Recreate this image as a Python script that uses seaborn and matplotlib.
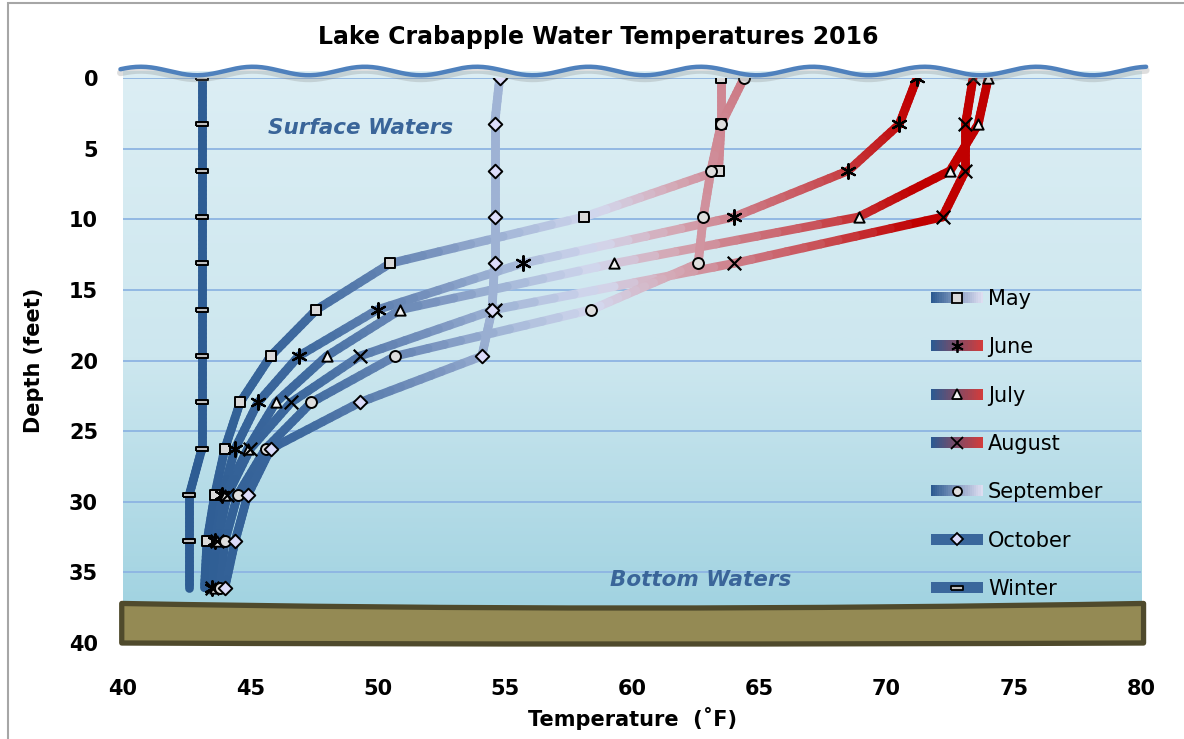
import numpy as np
import pandas as pd
import matplotlib
matplotlib.use("Agg")
import matplotlib.pyplot as plt
import seaborn as sns
from matplotlib.collections import LineCollection
from matplotlib.colors import LinearSegmentedColormap, Normalize
from matplotlib.legend_handler import HandlerBase
from matplotlib.lines import Line2D
from matplotlib.patches import Rectangle, PathPatch
from matplotlib.path import Path

# --- data (depth in feet, temperature in F) ---
depth = [0, 3.28, 6.56, 9.84, 13.12, 16.40, 19.69, 22.97, 26.25, 29.53, 32.81, 36.09]
may = [63.5, 63.5, 63.4, 58.1, 50.5, 47.6, 45.8, 44.6, 44.0, 43.6, 43.3, 43.2]
june = [71.2, 70.5, 68.5, 64.0, 55.7, 50.0, 46.9, 45.3, 44.4, 43.9, 43.6, 43.5]
july = [74.0, 73.6, 72.5, 68.9, 59.3, 50.9, 48.0, 46.0, 44.9, 44.0, 43.7, 43.6]
august = [73.4, 73.1, 73.1, 72.2, 64.0, 54.6, 49.3, 46.6, 45.0, 44.1, 43.7, 43.5]
september = [64.4, 63.5, 63.1, 62.8, 62.6, 58.4, 50.7, 47.4, 45.6, 44.5, 44.0, 43.8]
october = [54.8, 54.6, 54.6, 54.6, 54.6, 54.5, 54.1, 49.3, 45.8, 44.9, 44.4, 44.0]
winter = [43.1, 43.1, 43.1, 43.1, 43.1, 43.1, 43.1, 43.1, 43.1, 42.6, 42.6, 42.6]

months = ["May", "June", "July", "August", "September", "October", "Winter"]
temps = [may, june, july, august, september, october, winter]
# last reading has no visible marker for these two
no_last_marker = ["May", "Winter"]

# marker styles
dash = [(-1, -0.32), (1, -0.32), (1, 0.32), (-1, 0.32), (-1, -0.32)]
mstyle = {
    "May": dict(marker="s", s=62, fc="#D9D9D9"),
    "June": dict(marker=(6, 2, 0), s=110, fc=None),
    "July": dict(marker="^", s=55, fc="#F2F2F2"),
    "August": dict(marker="x", s=95, fc=None),
    "September": dict(marker="o", s=62, fc="#DEDEDE"),
    "October": dict(marker="D", s=48, fc="#DCDCFA"),
    "Winter": dict(marker=dash, s=80, fc="#BFBFBF"),
}
legend_grad = {
    "May": ("#2C5A91", "#DDDDF0"),
    "June": ("#2C5A91", "#D03C3C"),
    "July": ("#2C5A91", "#D03C3C"),
    "August": ("#2C5A91", "#D03C3C"),
    "September": ("#2C5A91", "#DDDDF0"),
    "October": ("#3A679C", "#3A679C"),
    "Winter": ("#3A679C", "#3A679C"),
}

# temperature colour ramp for the profile lines
ramp = [(42, "#2A5A91"), (47, "#3F6A9F"), (52, "#7893BE"), (55, "#A5B8D8"),
        (58.5, "#D3D8EE"), (61.5, "#D4A8B5"), (64, "#CD7E89"), (67.5, "#C84C52"),
        (71, "#C00000"), (80, "#C00000")]
tmin, tmax = ramp[0][0], ramp[-1][0]
line_cmap = LinearSegmentedColormap.from_list(
    "lake", [((t - tmin) / (tmax - tmin), c) for t, c in ramp])
norm = Normalize(tmin, tmax)


class GradHandler(HandlerBase):
    def __init__(self, c0, c1):
        super().__init__()
        self.cm = LinearSegmentedColormap.from_list("g", [c0, c1])

    def create_artists(self, legend, orig_handle, xdescent, ydescent,
                       width, height, fontsize, trans):
        n = 24
        bh = height * 0.75
        y0 = -ydescent + height / 2 - bh / 2
        arts = [Rectangle((-xdescent + width * i / n, y0), width / n + 0.4, bh,
                          fc=self.cm(i / (n - 1)), ec="none", transform=trans)
                for i in range(n)]
        arts.append(Line2D([-xdescent + width / 2], [-ydescent + height / 2],
                           marker=orig_handle.get_marker(),
                           markersize=orig_handle.get_markersize(),
                           mfc=orig_handle.get_markerfacecolor(),
                           mec="black", mew=1.3, ls="none", transform=trans))
        return arts


sns.set_style("white")
plt.rcParams["font.family"] = ["DejaVu Sans"]
plt.rcParams["text.color"] = "black"
plt.rcParams["axes.labelcolor"] = "black"
plt.rcParams["xtick.color"] = "black"
plt.rcParams["ytick.color"] = "black"

fig = plt.figure(figsize=(11.84, 7.39), dpi=100)
ax = fig.add_axes([0.1039, 0.1299, 0.8598, 0.7645])

# water background
grad = np.linspace(0, 1, 512).reshape(-1, 1)
water = LinearSegmentedColormap.from_list("w", ["#DCEEF4", "#CDE7EF", "#9BD0DF"])
im = ax.imshow(grad, extent=[40, 80, 40, -0.45], aspect="auto", cmap=water,
               zorder=-2, interpolation="bilinear")
im.set_clip_on(False)

# profile lines with temperature gradient
for name, t in zip(months, temps):
    segs, cols = [], []
    for i in range(len(depth) - 1):
        xs = np.linspace(t[i], t[i + 1], 13)
        ys = np.linspace(depth[i], depth[i + 1], 13)
        for j in range(12):
            segs.append([(xs[j], ys[j]), (xs[j + 1], ys[j + 1])])
            cols.append(line_cmap(norm((xs[j] + xs[j + 1]) / 2)))
    lc = LineCollection(segs, colors=cols, linewidths=6.3,
                        capstyle="round", joinstyle="round", zorder=3)
    ax.add_collection(lc)

# markers
for name, t in zip(months, temps):
    st = mstyle[name]
    df = pd.DataFrame({"temp": t, "depth": depth})
    if name in no_last_marker:
        df = df.iloc[:-1]
    if st["fc"] is None:
        sns.scatterplot(data=df, x="temp", y="depth", marker=st["marker"], s=st["s"],
                        color="black", edgecolor=None, linewidth=1.6, zorder=5,
                        ax=ax, legend=False)
    else:
        sns.scatterplot(data=df, x="temp", y="depth", marker=st["marker"], s=st["s"],
                        color=st["fc"], edgecolor="black", linewidth=1.4, zorder=5,
                        ax=ax, legend=False)

# water surface wave
wx = np.linspace(39.9, 80.2, 400)
wy = -0.5 - 0.3 * np.cos(2 * np.pi * (wx - 45.1) / 4.4)
ax.plot(wx, wy + 0.25, color="#7F7F7F", lw=5, alpha=0.25, clip_on=False, zorder=6)
ax.plot(wx, wy, color="#4F81BD", lw=3.2, clip_on=False, zorder=7)

# lake bottom
verts = [(39.95, 37.2), (60, 37.85), (80.1, 37.2), (80.1, 40.0),
         (60, 40.15), (39.95, 40.0), (39.95, 37.2)]
codes = [Path.MOVETO, Path.CURVE3, Path.CURVE3, Path.LINETO,
         Path.CURVE3, Path.CURVE3, Path.CLOSEPOLY]
ax.add_patch(PathPatch(Path(verts, codes), fc="#948A54", ec="#4F4A2C", lw=3.8,
                       joinstyle="round", clip_on=False, zorder=8))

ax.text(49.35, 3.55, "Surface Waters", color="#3A6599", fontsize=15.5,
        fontweight="bold", fontstyle="italic", ha="center", va="center", zorder=4)
ax.text(62.7, 35.55, "Bottom Waters", color="#3A6599", fontsize=15.5,
        fontweight="bold", fontstyle="italic", ha="center", va="center", zorder=4)

ax.set_xlim(40, 80)
ax.set_ylim(40, 0)
ax.set_xticks(range(40, 81, 5))
ax.set_yticks(range(0, 41, 5))
ax.set_axisbelow(True)
ax.yaxis.grid(True, color="#8DB4E2", lw=1.3)
ax.xaxis.grid(False)
for sp in ax.spines.values():
    sp.set_visible(False)
ax.tick_params(axis="x", length=0, labelsize=15, pad=26)
ax.tick_params(axis="y", length=0, labelsize=15, pad=18)
for lab in ax.get_xticklabels() + ax.get_yticklabels():
    lab.set_fontweight("bold")
ax.set_xlabel("Temperature  (˚F)", fontsize=15, fontweight="bold", labelpad=6)
ax.set_ylabel("Depth (feet)", fontsize=15, fontweight="bold", labelpad=18)

# legend
handles, hmap = [], {}
for name in months:
    st = mstyle[name]
    size = 6.5
    if st["fc"] is None:
        size = 9
    if name == "Winter":
        size = 8
    h = Line2D([], [], marker=st["marker"], markersize=size,
               mfc=st["fc"] if st["fc"] else "black", mec="black", ls="none")
    handles.append(h)
    hmap[h] = GradHandler(*legend_grad[name])
ax.legend(handles, months, handler_map=hmap, loc="upper left",
          bbox_to_anchor=(0.775, 0.66), frameon=False, fontsize=15,
          handlelength=2.5, handletextpad=0.25, labelspacing=1.36)

fig.text(0.505, 0.95, "Lake Crabapple Water Temperatures 2016", ha="center",
         va="center", fontsize=17, fontweight="bold")
fig.patches.append(Rectangle((0.007, -0.01), 1.0, 1.006, transform=fig.transFigure,
                             fill=False, ec="#A6A6A6", lw=1.5))

fig.savefig("out.png", dpi=100)
